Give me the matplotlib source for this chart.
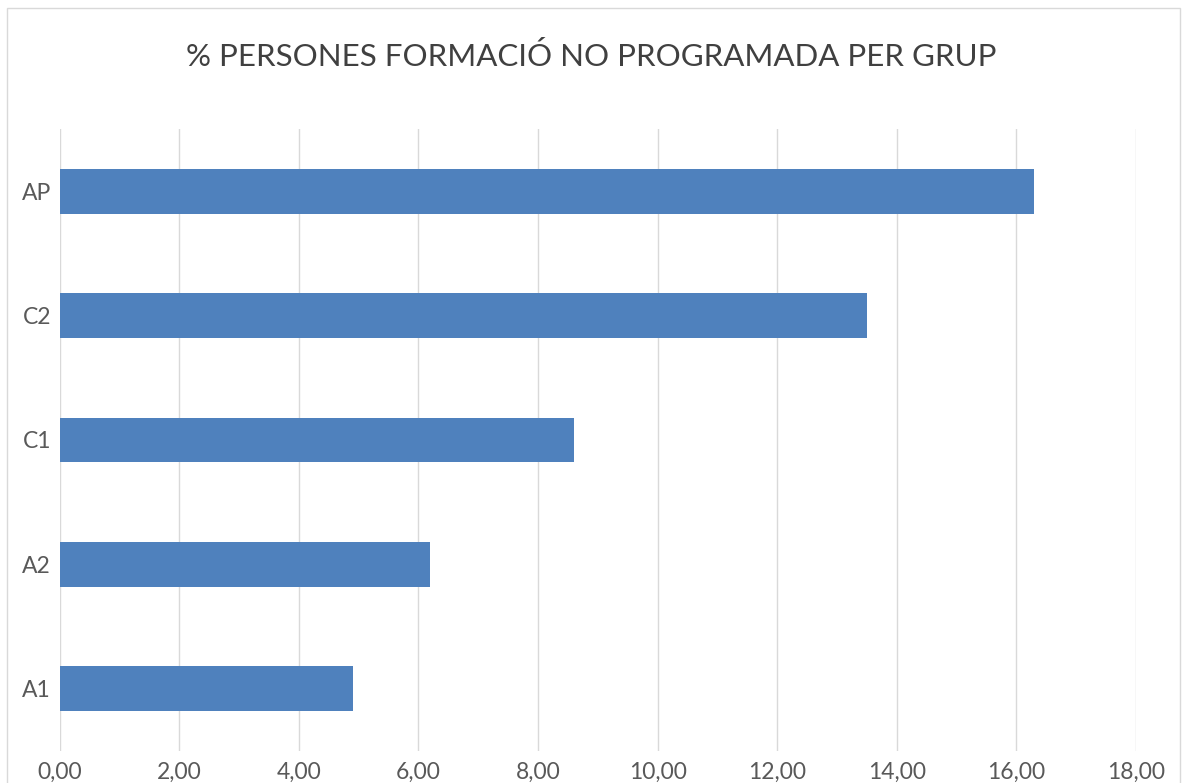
import matplotlib
matplotlib.use("Agg")
import matplotlib.pyplot as plt
from matplotlib.patches import Rectangle

categories = ["A1", "A2", "C1", "C2", "AP"]
values = [4.9, 6.2, 8.6, 13.5, 16.3]
xticks = [0, 2, 4, 6, 8, 10, 12, 14, 16, 18]
xticklabels = ["0,00", "2,00", "4,00", "6,00", "8,00", "10,00", "12,00", "14,00", "16,00", "18,00"]
title = "% PERSONES FORMACIÓ NO PROGRAMADA PER GRUP"

plt.rcParams['font.family'] = ['Lato', 'DejaVu Sans']

fig = plt.figure(figsize=(11.86, 7.83), dpi=100)
fig.patch.set_facecolor("white")
fig.patches.append(Rectangle((7/1186, -0.01), (1180-7)/1186, 1 - 8/783 + 0.01,
                             transform=fig.transFigure, fill=False,
                             edgecolor="#d9d9d9", linewidth=1.0))

ax = fig.add_axes([59.5/1186, (783-751)/783, (1136-59.5)/1186, (751-129)/783])
ax.barh(range(len(categories)), values, height=0.36, color="#4F81BD", zorder=3)
ax.set_xlim(0, 18)
ax.set_ylim(-0.5, len(categories) - 0.5)
ax.set_xticks(xticks)
ax.set_xticklabels(xticklabels)
ax.set_yticks(range(len(categories)))
ax.set_yticklabels(categories)
ax.tick_params(axis='both', length=0, labelsize=16.5, colors="#595959")
ax.tick_params(axis='x', pad=8)
ax.tick_params(axis='y', pad=6)
ax.grid(axis='x', color="#d9d9d9", linewidth=1.0, zorder=0)
for s in ax.spines.values():
    s.set_visible(False)

fig.text(591/1186, 1 - 57/783, title, ha='center', va='center', fontsize=22.5, color="#404040")

fig.savefig("out.png", dpi=100, facecolor="white")
